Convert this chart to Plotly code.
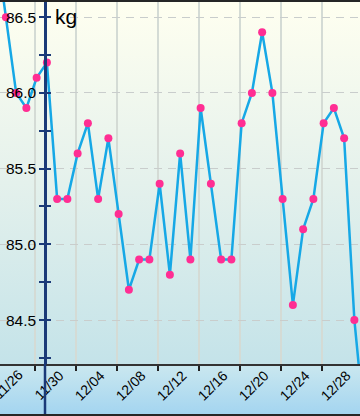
import base64
from datetime import datetime, timedelta
import plotly.graph_objects as go

# ---- data ----
dates = [
    "2013-11-26", "2013-11-27", "2013-11-28", "2013-11-29", "2013-11-30",
    "2013-12-01", "2013-12-02", "2013-12-03", "2013-12-04", "2013-12-05",
    "2013-12-06", "2013-12-07", "2013-12-08", "2013-12-09", "2013-12-10",
    "2013-12-11", "2013-12-12", "2013-12-13", "2013-12-14", "2013-12-15",
    "2013-12-16", "2013-12-17", "2013-12-18", "2013-12-19", "2013-12-20",
    "2013-12-21", "2013-12-22", "2013-12-23", "2013-12-24", "2013-12-25",
    "2013-12-26", "2013-12-27", "2013-12-28", "2013-12-29", "2013-12-30",
    "2013-12-31", "2014-01-01",
]
weights = [
    87.0, 86.5, 86.0, 85.9, 86.1,
    86.2, 85.3, 85.3, 85.6, 85.8,
    85.3, 85.7, 85.2, 84.7, 84.9,
    84.9, 85.4, 84.8, 85.6, 84.9,
    85.9, 85.4, 84.9, 84.9, 85.8,
    86.0, 86.4, 86.0, 85.3, 84.6,
    85.1, 85.3, 85.8, 85.9, 85.7,
    84.5, 83.8,
]
weigh_time = "05:00"          # measurements taken in the morning
y_ticks = [84.5, 85.0, 85.5, 86.0, 86.5]
y_tick_labels = ["84.5", "85.0", "85.5", "86.0", "86.5"]
edge_tick = ["2013-11-26"]    # label partly scrolled off the left edge
unit_label = "kg"

x_times = [f"{d} {weigh_time}" for d in dates]

# ---- visible window ----
W, H = 360, 416
top_m, bot_m = 2, 52
plot_h = H - top_m - bot_m
px_per_day = 41.0 / 4.0
tick_ref = datetime(2013, 11, 30)
tick_ref_px = 34.5
x_start = tick_ref - timedelta(days=tick_ref_px / px_per_day)
x_end = x_start + timedelta(days=W / px_per_day)
one_day = timedelta(days=1)
y_range = [84.21, 86.60]
yaxis_pos = 45.0 / W
label_shift = 25

navy = "#1b3a78"

# ---- gradient background ----
svg = (
    "<svg xmlns='http://www.w3.org/2000/svg' width='360' height='412' "
    "viewBox='0 0 360 412' preserveAspectRatio='none'>"
    "<defs>"
    "<linearGradient id='a' x1='0' y1='0' x2='0' y2='1'>"
    "<stop offset='0' stop-color='#fffff0'/>"
    "<stop offset='0.5' stop-color='#e4f1ec'/>"
    "<stop offset='1' stop-color='#c4e3e9'/></linearGradient>"
    "<linearGradient id='b' x1='0' y1='0' x2='0' y2='1'>"
    "<stop offset='0' stop-color='#cbe8ef'/>"
    "<stop offset='1' stop-color='#a4d5f0'/></linearGradient>"
    "</defs>"
    "<rect x='0' y='0' width='360' height='362' fill='url(#a)'/>"
    "<rect x='0' y='362' width='360' height='50' fill='url(#b)'/>"
    "</svg>"
)
bg_uri = "data:image/svg+xml;base64," + base64.b64encode(svg.encode()).decode()

fig = go.Figure()
fig.add_trace(go.Scatter(
    x=x_times, y=weights, mode="lines+markers",
    line=dict(color="#16a8e6", width=2.5),
    marker=dict(color="#ff2e93", size=8),
    cliponaxis=True, hoverinfo="skip", showlegend=False,
))
# invisible companion trace so the helper axes are drawn
fig.add_trace(go.Scatter(
    x=x_times, y=weights, xaxis="x2", yaxis="y2", mode="lines",
    line=dict(width=0), opacity=0, hoverinfo="skip", showlegend=False,
))

tick_font = dict(size=14, color="black")

fig.update_layout(
    width=W, height=H,
    margin=dict(l=0, r=0, t=top_m, b=bot_m, pad=0),
    paper_bgcolor="#262626",
    plot_bgcolor="rgba(0,0,0,0)",
    font=dict(family="Liberation Sans, Arial, sans-serif", color="black"),
    images=[dict(
        source=bg_uri, xref="paper", yref="paper", x=0, y=1,
        sizex=1, sizey=(plot_h + 50) / plot_h,
        xanchor="left", yanchor="top", sizing="stretch", layer="below",
    )],
    xaxis=dict(
        type="date", range=[x_start, x_end], automargin=False,
        tick0="2013-11-30", dtick=4 * 86400000, tickformat="%m/%d",
        tickangle=-45, ticklabelshift=label_shift, ticklabelstandoff=-9,
        ticklabeloverflow="allow",
        tickfont=tick_font,
        ticks="outside", ticklen=5, tickwidth=1.5, tickcolor="#222222",
        showline=True, linecolor="#333333", linewidth=2,
        showgrid=True, gridcolor="#d4dbd5", gridwidth=1.5,
        zeroline=False, fixedrange=True,
    ),
    # helper axis, shifted by one day, only to show the edge label
    xaxis2=dict(
        type="date", range=[x_start - one_day, x_end - one_day],
        overlaying="x", side="bottom", anchor="y", automargin=False,
        tickvals=edge_tick, tickformat="%m/%d",
        tickangle=-45, ticklabelstandoff=-9, ticklabeloverflow="allow",
        ticklabelshift=int(round(label_shift - px_per_day)),
        tickfont=tick_font,
        ticks="outside", ticklen=5, tickwidth=1.5,
        tickcolor="rgba(0,0,0,0)",
        showline=False, showgrid=False, zeroline=False, fixedrange=True,
    ),
    yaxis=dict(
        range=y_range, automargin=False,
        anchor="free", position=yaxis_pos,
        tickvals=y_ticks, ticktext=y_tick_labels,
        tickfont=dict(size=15.5, color="black"),
        ticks="outside", ticklen=5, tickwidth=2, tickcolor=navy,
        minor=dict(dtick=0.25, tick0=84.25, ticks="outside", ticklen=5,
                   tickwidth=1.5, tickcolor=navy, showgrid=False),
        showline=True, linecolor=navy, linewidth=2.5,
        showgrid=True, gridcolor="#c9cdcc", gridwidth=1, griddash="8px,6px",
        zeroline=False, fixedrange=True,
    ),
    yaxis2=dict(
        range=y_range, overlaying="y", anchor="free", position=yaxis_pos,
        side="left", automargin=False,
        tickvals=y_ticks, showticklabels=False,
        ticks="inside", ticklen=5, tickwidth=2, tickcolor=navy,
        minor=dict(dtick=0.25, tick0=84.25, ticks="inside", ticklen=5,
                   tickwidth=1.5, tickcolor=navy, showgrid=False),
        showline=False, showgrid=False, zeroline=False, fixedrange=True,
    ),
    annotations=[dict(
        text=unit_label, xref="paper", yref="paper",
        x=53.0 / W, y=(H - bot_m - 17) / plot_h,
        xanchor="left", yanchor="middle", showarrow=False,
        font=dict(size=21, color="black"),
    )],
    shapes=[dict(
        type="line", xref="paper", yref="paper",
        x0=yaxis_pos, x1=yaxis_pos, y0=-50.0 / plot_h, y1=0,
        line=dict(color=navy, width=2.5), layer="above",
    )],
)

fig.write_html(
    "out.html",
    config={"displayModeBar": False},
    post_script="document.body.style.margin='0';document.body.style.overflow='hidden';",
)
